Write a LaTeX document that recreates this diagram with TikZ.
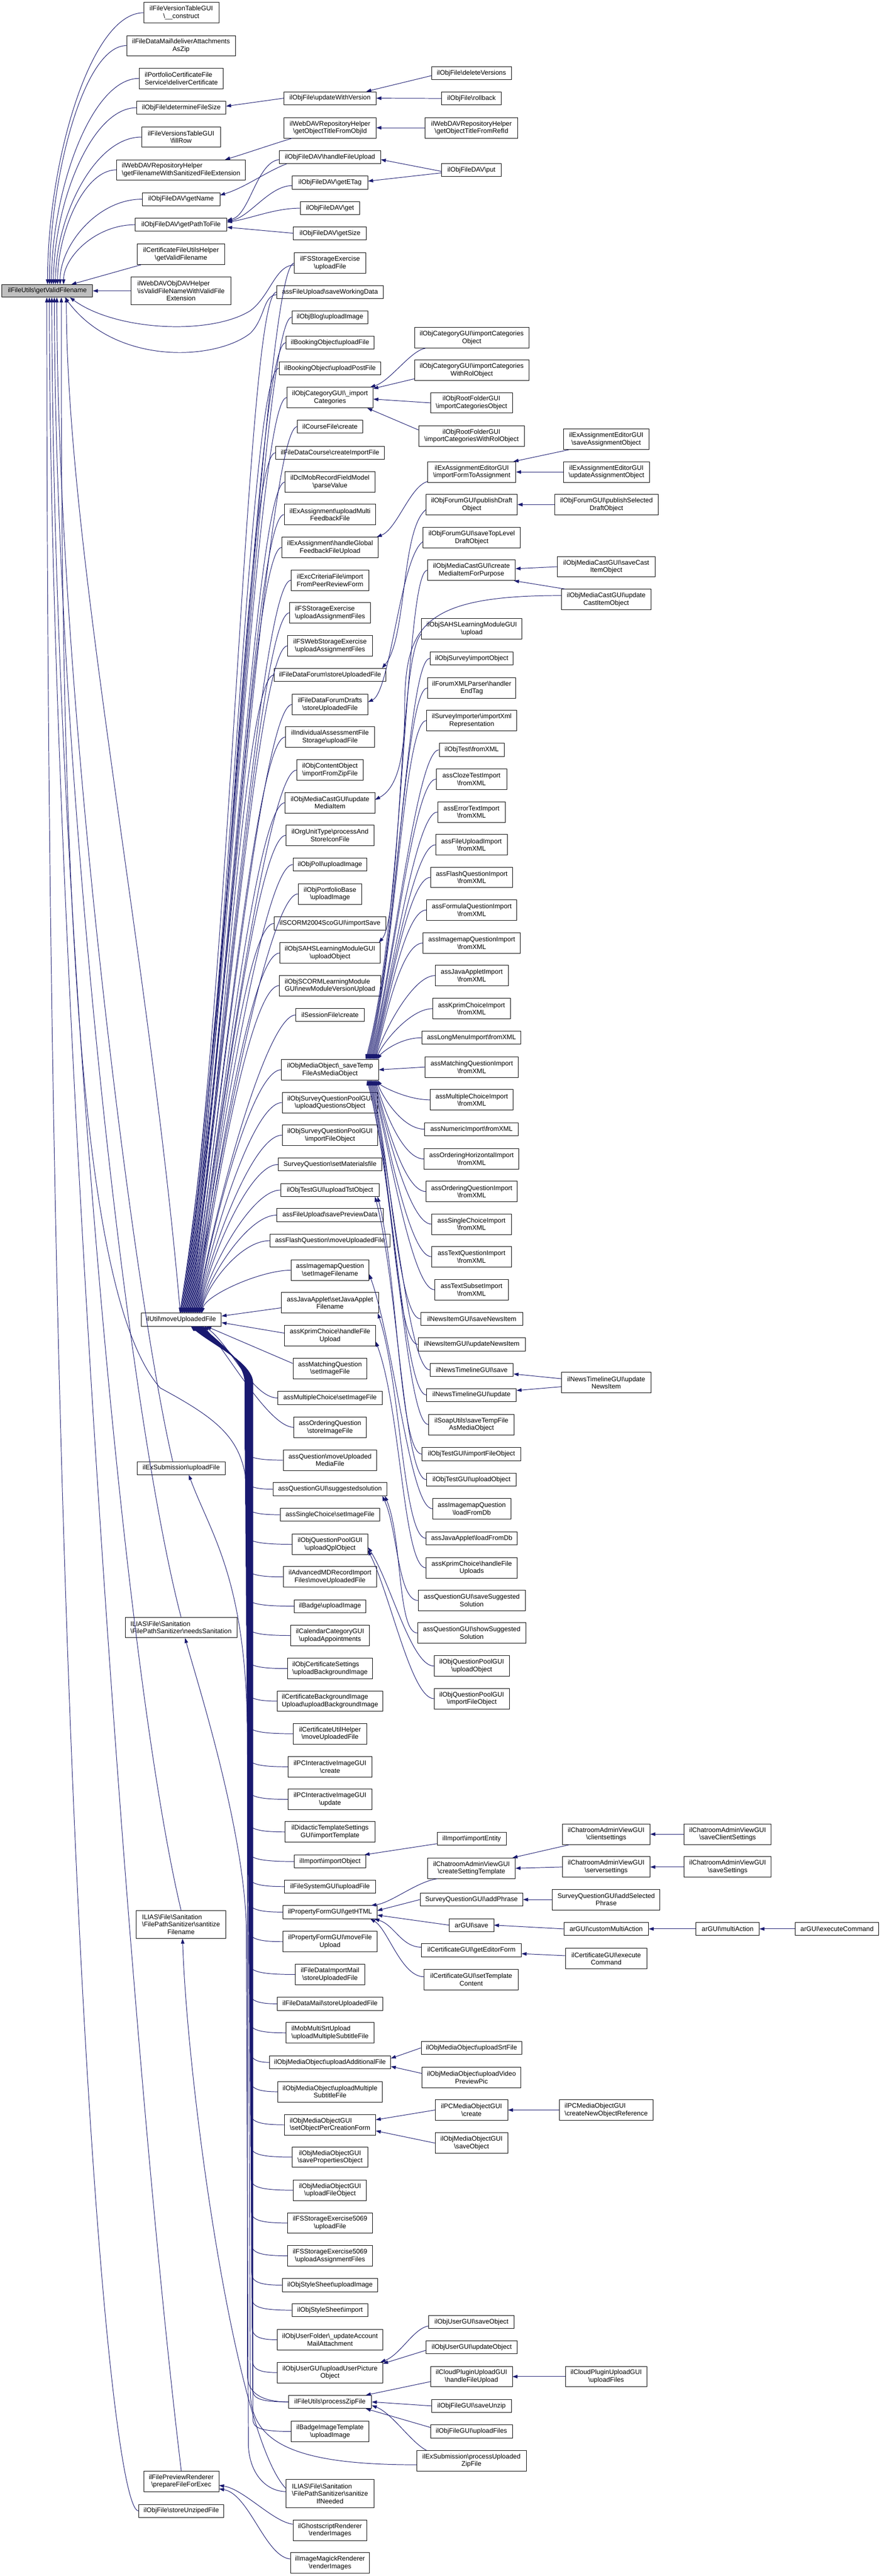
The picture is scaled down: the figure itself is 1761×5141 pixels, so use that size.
\documentclass[tikz,border=0pt]{standalone}
\usepackage{fontspec}
\setmainfont{Liberation Sans}
\usetikzlibrary{arrows.meta}
\definecolor{edgeblue}{RGB}{25,25,112}
\definecolor{rootgray}{RGB}{191,191,191}
\newcommand\bsl{\textbackslash}
\newcommand\lline[2]{\makebox[0pt][l]{#1}\hphantom{#2}}
\tikzset{
  box/.style={draw=black,line width=0.9pt,fill=white,inner xsep=1pt,inner ysep=0pt,font=\fontsize{13.2}{15}\selectfont,align=center},
  cedge/.style={draw=edgeblue,line width=1pt,>={Triangle[length=10pt,width=7pt]},<-},
}
\newcommand\nd[6]{\node[box,minimum width=#4pt,minimum height=#5pt] (#1) at (#2,#3) {#6};}
\newcommand\ndl[6]{\node[box,align=left,minimum width=#4pt,minimum height=#5pt] (#1) at (#2,#3) {#6};}
\newcommand\FanU[4]{\draw[cedge] ([xshift=#2pt]n11.north) .. controls +(#3,#4) and +(-60,0) .. (#1.west);}
\newcommand\FanD[4]{\draw[cedge] ([xshift=#2pt]n11.south) .. controls +(40,35) and +(0,-40) .. (#3,2760) -- (#3,#4-25) .. controls (#3,#4-8) and (#3+12,#4) .. (#1.west);}
\newcommand\SvU[4]{\draw[cedge] ([xshift=#2pt]c33.north east) .. controls +(#3,#4) and +(-45,0) .. (#1.west);}
\newcommand\SvD[4]{\draw[cedge] ([xshift=#2pt]c33.south east) .. controls +(#3,#4) and +(-45,0) .. (#1.west);}
\begin{document}
\begin{tikzpicture}[x=1pt,y=-1pt]
\useasboundingbox (0,0) rectangle (1761,5141);
\fill[white] (0,0) rectangle (1761,5141);
% root
\node[box,fill=rootgray,minimum width=181pt,minimum height=25pt] (root) at (94.5,580.5) {ilFileUtils\bsl{}getValidFilename};
% column 2
\nd{n1}{362}{25.5}{150}{41}{ilFileVersionTableGUI\\\bsl\_\_construct}
\nd{n2}{361.5}{91}{217}{40}{ilFileDataMail\bsl{}deliverAttachments\\AsZip}
\ndl{n3}{362}{156.5}{168}{41}{ilPortfolioCertificateFile\\Service\bsl{}deliverCertificate}
\nd{n4}{362}{215}{178}{26}{ilObjFile\bsl{}determineFileSize}
\nd{n5}{361.5}{273.5}{157}{41}{ilFileVersionsTableGUI\\\bsl{}fillRow}
\ndl{n6}{361.5}{339}{257}{40}{ilWebDAVRepositoryHelper\\\bsl{}getFilenameWithSanitizedFileExtension}
\nd{n7}{361.5}{397.5}{155}{26}{ilObjFileDAV\bsl{}getName}
\nd{n8}{361.5}{448.5}{183}{26}{ilObjFileDAV\bsl{}getPathToFile}
\nd{n9}{361.5}{507.5}{175}{41}{ilCertificateFileUtilsHelper\\\bsl{}getValidFilename}
\nd{n10}{361.5}{580.5}{199}{56}{\lline{ilWebDAVObjDAVHelper}{\bsl{}isValidFileNameWithValidFile}\\\bsl{}isValidFileNameWithValidFile\\Extension}
\nd{n11}{362}{2633.5}{160}{26}{ilUtil\bsl{}moveUploadedFile}
\nd{n12}{362}{2930}{176}{26}{ilExSubmission\bsl{}uploadFile}
\ndl{n13}{361.5}{3248}{223}{41}{ILIAS\bsl{}File\bsl{}Sanitation\\\bsl{}FilePathSanitizer\bsl{}needsSanitation}
\nd{n14}{361.5}{3840.5}{179}{56}{\lline{ILIAS\bsl{}File\bsl{}Sanitation}{\bsl{}FilePathSanitizer\bsl{}santitize}\\\bsl{}FilePathSanitizer\bsl{}santitize\\Filename}
\nd{n15}{362}{4952}{150}{41}{ilFilePreviewRenderer\\\bsl{}prepareFileForExec}
\nd{n16}{362}{5011}{170}{26}{ilObjFile\bsl{}storeUnzipedFile}
% column 3
\nd{c1}{659}{196}{184}{26}{ilObjFile\bsl{}updateWithVersion}
\nd{c2}{659}{255}{184}{41}{ilWebDAVRepositoryHelper\\\bsl{}getObjectTitleFromObjId}
\nd{c3}{659}{313.5}{202}{26}{ilObjFileDAV\bsl{}handleFileUpload}
\nd{c4}{659}{364.5}{151}{26}{ilObjFileDAV\bsl{}getETag}
\nd{c5}{659}{415.5}{119}{26}{ilObjFileDAV\bsl{}get}
\nd{c6}{659}{465.5}{146}{26}{ilObjFileDAV\bsl{}getSize}
\nd{c7}{659}{525}{142}{41}{ilFSStorageExercise\\\bsl{}uploadFile}
\nd{c8}{659}{583}{213}{26}{assFileUpload\bsl{}saveWorkingData}
\nd{c9}{659}{633}{152}{26}{ilObjBlog\bsl{}uploadImage}
\nd{c10}{659}{684}{176}{26}{ilBookingObject\bsl{}uploadFile}
\nd{c11}{659}{735}{203}{26}{ilBookingObject\bsl{}uploadPostFile}
\nd{c12}{659}{793.5}{172}{41}{ilObjCategoryGUI\bsl\_import\\Categories}
\nd{c13}{659}{851.5}{130}{26}{ilCourseFile\bsl{}create}
\nd{c14}{659}{903.5}{217}{26}{ilFileDataCourse\bsl{}createImportFile}
\nd{c15}{659}{962}{179}{41}{ilDclMobRecordFieldModel\\\bsl{}parseValue}
\nd{c16}{659}{1027}{183}{41}{ilExAssignment\bsl{}uploadMulti\\FeedbackFile}
\nd{c17}{659}{1092.5}{192}{41}{ilExAssignment\bsl{}handleGlobal\\FeedbackFileUpload}
\nd{c18}{659}{1158}{155}{41}{ilExcCriteriaFile\bsl{}import\\FromPeerReviewForm}
\ndl{c19}{659}{1223}{161}{41}{ilFSStorageExercise\\\bsl{}uploadAssignmentFiles}
\nd{c20}{659}{1289}{169}{41}{ilFSWebStorageExercise\\\bsl{}uploadAssignmentFiles}
\nd{c21}{659}{1347}{223}{26}{ilFileDataForum\bsl{}storeUploadedFile}
\nd{c22}{659}{1406}{151}{41}{ilFileDataForumDrafts\\\bsl{}storeUploadedFile}
\nd{c23}{659}{1471}{178}{41}{ilIndividualAssessmentFile\\Storage\bsl{}uploadFile}
\nd{c24}{659}{1537}{133}{41}{ilObjContentObject\\\bsl{}importFromZipFile}
\nd{c25}{659}{1602}{179}{41}{ilObjMediaCastGUI\bsl{}update\\MediaItem}
\nd{c26}{659}{1667}{175}{41}{ilOrgUnitType\bsl{}processAnd\\StoreIconFile}
\nd{c27}{659}{1725.5}{148}{26}{ilObjPoll\bsl{}uploadImage}
\nd{c28}{659}{1784}{127}{41}{ilObjPortfolioBase\\\bsl{}uploadImage}
\nd{c29}{659}{1843}{223}{26}{ilSCORM2004ScoGUI\bsl{}importSave}
\nd{c30}{659}{1902}{200}{41}{ilObjSAHSLearningModuleGUI\\\bsl{}uploadObject}
\ndl{c31}{659}{1967}{202}{41}{ilObjSCORMLearningModule\\GUI\bsl{}newModuleVersionUpload}
\nd{c32}{659}{2025.5}{136}{26}{ilSessionFile\bsl{}create}
\nd{c33}{659}{2135}{194}{41}{ilObjMediaObject\bsl\_saveTemp\\FileAsMediaObject}
\nd{c34}{659}{2200.5}{191}{41}{ilObjSurveyQuestionPoolGUI\\\bsl{}uploadQuestionsObject}
\nd{c35}{659}{2265.5}{191}{41}{ilObjSurveyQuestionPoolGUI\\\bsl{}importFileObject}
\nd{c36}{659}{2324}{207}{26}{SurveyQuestion\bsl{}setMaterialsfile}
\nd{c37}{659}{2375}{197}{26}{ilObjTestGUI\bsl{}uploadTstObject}
\nd{c38}{659}{2425}{212}{26}{assFileUpload\bsl{}savePreviewData}
\nd{c39}{659}{2476}{240}{26}{assFlashQuestion\bsl{}moveUploadedFile}
\nd{c40}{659}{2535}{156}{41}{assImagemapQuestion\\\bsl{}setImageFilename}
\nd{c41}{659}{2600}{194}{41}{assJavaApplet\bsl{}setJavaApplet\\Filename}
\nd{c42}{659}{2665.5}{182}{41}{assKprimChoice\bsl{}handleFile\\Upload}
\nd{c43}{659}{2731}{148}{41}{assMatchingQuestion\\\bsl{}setImageFile}
\nd{c44}{659}{2790}{208}{26}{assMultipleChoice\bsl{}setImageFile}
\nd{c45}{659}{2848.5}{144}{41}{assOrderingQuestion\\\bsl{}storeImageFile}
\nd{c46}{659}{2914}{187}{41}{assQuestion\bsl{}moveUploaded\\MediaFile}
\nd{c47}{659}{2972}{228}{26}{assQuestionGUI\bsl{}suggestedsolution}
\nd{c48}{659}{3023}{199}{26}{assSingleChoice\bsl{}setImageFile}
\nd{c49}{659}{3082}{151}{41}{ilObjQuestionPoolGUI\\\bsl{}uploadQplObject}
\nd{c50}{659}{3147}{187}{41}{ilAdvancedMDRecordImport\\Files\bsl{}moveUploadedFile}
\nd{c51}{659}{3205.5}{143}{26}{ilBadge\bsl{}uploadImage}
\nd{c52}{659}{3264}{158}{41}{ilCalendarCategoryGUI\\\bsl{}uploadAppointments}
\ndl{c53}{659}{3330}{169}{41}{ilObjCertificateSettings\\\bsl{}uploadBackgroundImage}
\ndl{c54}{659}{3395}{210}{41}{ilCertificateBackgroundImage\\Upload\bsl{}uploadBackgroundImage}
\nd{c55}{659}{3460}{147}{41}{ilCertificateUtilHelper\\\bsl{}moveUploadedFile}
\nd{c56}{659}{3526}{168}{41}{ilPCInteractiveImageGUI\\\bsl{}create}
\nd{c57}{659}{3591}{168}{41}{ilPCInteractiveImageGUI\\\bsl{}update}
\nd{c58}{659}{3656}{179}{41}{ilDidacticTemplateSettings\\GUI\bsl{}importTemplate}
\nd{c59}{659}{3715}{143}{26}{ilImport\bsl{}importObject}
\nd{c60}{659}{3765}{182}{26}{ilFileSystemGUI\bsl{}uploadFile}
\nd{c61}{659}{3816}{188}{26}{ilPropertyFormGUI\bsl{}getHTML}
\nd{c62}{659}{3875}{188}{41}{ilPropertyFormGUI\bsl{}moveFile\\Upload}
\nd{c63}{659}{3940.5}{139}{41}{ilFileDataImportMail\\\bsl{}storeUploadedFile}
\nd{c64}{659}{3999}{211}{26}{ilFileDataMail\bsl{}storeUploadedFile}
\ndl{c65}{659}{4057}{175}{41}{ilMobMultiSrtUpload\\\bsl{}uploadMultipleSubtitleFile}
\nd{c66}{659}{4116}{242}{26}{ilObjMediaObject\bsl{}uploadAdditionalFile}
\nd{c67}{659}{4174.5}{208}{41}{ilObjMediaObject\bsl{}uploadMultiple\\SubtitleFile}
\ndl{c68}{659}{4240.5}{182}{41}{ilObjMediaObjectGUI\\\bsl{}setObjectPerCreationForm}
\nd{c69}{659}{4305}{151}{41}{ilObjMediaObjectGUI\\\bsl{}savePropertiesObject}
\nd{c70}{659}{4371}{146}{41}{ilObjMediaObjectGUI\\\bsl{}uploadFileObject}
\nd{c71}{659}{4436.5}{169}{41}{ilFSStorageExercise5069\\\bsl{}uploadFile}
\nd{c72}{659}{4502}{169}{41}{ilFSStorageExercise5069\\\bsl{}uploadAssignmentFiles}
\nd{c73}{659}{4560.5}{191}{26}{ilObjStyleSheet\bsl{}uploadImage}
\nd{c74}{659}{4610.5}{152}{26}{ilObjStyleSheet\bsl{}import}
\nd{c75}{659}{4669.5}{211}{41}{ilObjUserFolder\bsl\_updateAccount\\MailAttachment}
\nd{c76}{659}{4735}{211}{41}{ilObjUserGUI\bsl{}uploadUserPicture\\Object}
\nd{c77}{659}{4793.5}{166}{26}{ilFileUtils\bsl{}processZipFile}
\nd{c78}{659}{4852.5}{155}{41}{ilBadgeImageTemplate\\\bsl{}uploadImage}
\nd{c79}{659}{4976.5}{175}{56}{\lline{ILIAS\bsl{}File\bsl{}Sanitation}{\bsl{}FilePathSanitizer\bsl{}sanitize}\\\bsl{}FilePathSanitizer\bsl{}sanitize\\IfNeeded}
\nd{c80}{659}{5049.5}{148}{41}{ilGhostscriptRenderer\\\bsl{}renderImages}
\nd{c81}{659}{5115}{158}{41}{ilImageMagickRenderer\\\bsl{}renderImages}
% column 4
\nd{d1}{941.5}{146}{159}{26}{ilObjFile\bsl{}deleteVersions}
\nd{d2}{941.5}{196.5}{119}{26}{ilObjFile\bsl{}rollback}
\nd{d3}{941.5}{255}{185}{41}{ilWebDAVRepositoryHelper\\\bsl{}getObjectTitleFromRefId}
\nd{d4}{941.5}{339}{119}{26}{ilObjFileDAV\bsl{}put}
\nd{d5}{942}{674}{228}{41}{ilObjCategoryGUI\bsl{}importCategories\\Object}
\nd{d6}{942}{739}{228}{41}{ilObjCategoryGUI\bsl{}importCategories\\WithRolObject}
\nd{d7}{941.5}{804}{163}{41}{ilObjRootFolderGUI\\\bsl{}importCategoriesObject}
\nd{d8}{941.5}{870}{211}{41}{ilObjRootFolderGUI\\\bsl{}importCategoriesWithRolObject}
\nd{d9}{942}{942}{176}{41}{ilExAssignmentEditorGUI\\\bsl{}importFormToAssignment}
\nd{d10}{942}{1007}{182}{41}{ilObjForumGUI\bsl{}publishDraft\\Object}
\nd{d11}{942}{1073}{194}{41}{ilObjForumGUI\bsl{}saveTopLevel\\DraftObject}
\nd{d12}{941.5}{1138}{175}{41}{ilObjMediaCastGUI\bsl{}create\\MediaItemForPurpose}
\nd{d13}{942}{1255}{200}{41}{ilObjSAHSLearningModuleGUI\\\bsl{}upload}
\nd{d14}{942}{1314}{166}{26}{ilObjSurvey\bsl{}importObject}
\nd{d15}{942}{1373}{176}{41}{ilForumXMLParser\bsl{}handler\\EndTag}
\nd{d16}{942}{1438}{180}{41}{ilSurveyImporter\bsl{}importXml\\Representation}
\nd{d17}{942}{1496.5}{130}{26}{ilObjTest\bsl{}fromXML}
\nd{d18}{941.5}{1555}{141}{41}{assClozeTestImport\\\bsl{}fromXML}
\nd{d19}{941.5}{1620.5}{135}{41}{assErrorTextImport\\\bsl{}fromXML}
\nd{d20}{941.5}{1686}{143}{41}{assFileUploadImport\\\bsl{}fromXML}
\nd{d21}{942}{1751}{164}{41}{assFlashQuestionImport\\\bsl{}fromXML}
\nd{d22}{942}{1816}{180}{41}{assFormulaQuestionImport\\\bsl{}fromXML}
\nd{d23}{942}{1882}{194}{41}{assImagemapQuestionImport\\\bsl{}fromXML}
\nd{d24}{942}{1947}{146}{41}{assJavaAppletImport\\\bsl{}fromXML}
\nd{d25}{941.5}{2013}{155}{41}{assKprimChoiceImport\\\bsl{}fromXML}
\nd{d26}{941.5}{2071}{197}{26}{assLongMenuImport\bsl{}fromXML}
\nd{d27}{942}{2129.5}{186}{41}{assMatchingQuestionImport\\\bsl{}fromXML}
\nd{d28}{942}{2195}{166}{41}{assMultipleChoiceImport\\\bsl{}fromXML}
\nd{d29}{941.5}{2253.5}{187}{26}{assNumericImport\bsl{}fromXML}
\nd{d30}{941.5}{2313}{189}{41}{assOrderingHorizontalImport\\\bsl{}fromXML}
\nd{d31}{942}{2378}{182}{41}{assOrderingQuestionImport\\\bsl{}fromXML}
\nd{d32}{941.5}{2443}{159}{41}{assSingleChoiceImport\\\bsl{}fromXML}
\nd{d33}{941.5}{2508}{159}{41}{assTextQuestionImport\\\bsl{}fromXML}
\nd{d34}{941.5}{2574}{147}{41}{assTextSubsetImport\\\bsl{}fromXML}
\nd{d35}{942}{2632}{204}{26}{ilNewsItemGUI\bsl{}saveNewsItem}
\nd{d36}{942}{2683}{214}{26}{ilNewsItemGUI\bsl{}updateNewsItem}
\nd{d37}{942}{2734}{166}{26}{ilNewsTimelineGUI\bsl{}save}
\nd{d38}{941.5}{2784}{179}{26}{ilNewsTimelineGUI\bsl{}update}
\nd{d39}{941.5}{2843}{171}{41}{ilSoapUtils\bsl{}saveTempFile\\AsMediaObject}
\nd{d40}{941.5}{2902}{197}{26}{ilObjTestGUI\bsl{}importFileObject}
\nd{d41}{941.5}{2953}{179}{26}{ilObjTestGUI\bsl{}uploadObject}
\nd{d42}{942}{3011}{156}{41}{assImagemapQuestion\\\bsl{}loadFromDb}
\nd{d43}{942}{3070}{182}{26}{assJavaApplet\bsl{}loadFromDb}
\nd{d44}{942}{3129}{182}{41}{assKprimChoice\bsl{}handleFile\\Uploads}
\nd{d45}{942}{3194}{214}{41}{assQuestionGUI\bsl{}saveSuggested\\Solution}
\nd{d46}{942}{3259}{216}{41}{assQuestionGUI\bsl{}showSuggested\\Solution}
\nd{d47}{942}{3325}{150}{41}{ilObjQuestionPoolGUI\\\bsl{}uploadObject}
\nd{d48}{942}{3390}{150}{41}{ilObjQuestionPoolGUI\\\bsl{}importFileObject}
\nd{d49}{942}{3669.5}{138}{26}{ilImport\bsl{}importEntity}
\nd{d50}{941.5}{3728.5}{175}{41}{ilChatroomAdminViewGUI\\\bsl{}createSettingTemplate}
\nd{d51}{941.5}{3791}{205}{26}{SurveyQuestionGUI\bsl{}addPhrase}
\nd{d52}{941.5}{3842}{89}{26}{arGUI\bsl{}save}
\nd{d53}{941.5}{3892}{199}{26}{ilCertificateGUI\bsl{}getEditorForm}
\nd{d54}{941}{3951}{188}{41}{ilCertificateGUI\bsl{}setTemplate\\Content}
\nd{d55}{941.5}{4087}{201}{26}{ilObjMediaObject\bsl{}uploadSrtFile}
\nd{d56}{941.5}{4146}{197}{41}{ilObjMediaObject\bsl{}uploadVideo\\PreviewPic}
\nd{d57}{941.5}{4211}{145}{41}{ilPCMediaObjectGUI\\\bsl{}create}
\nd{d58}{941.5}{4277}{145}{41}{ilObjMediaObjectGUI\\\bsl{}saveObject}
\nd{d59}{941.5}{4634}{171}{26}{ilObjUserGUI\bsl{}saveObject}
\nd{d60}{942}{4684.5}{182}{26}{ilObjUserGUI\bsl{}updateObject}
\nd{d61}{941.5}{4743}{163}{41}{ilCloudPluginUploadGUI\\\bsl{}handleFileUpload}
\nd{d62}{941.5}{4801.5}{159}{26}{ilObjFileGUI\bsl{}saveUnzip}
\nd{d63}{941.5}{4852.5}{163}{26}{ilObjFileGUI\bsl{}uploadFiles}
\nd{d64}{941.5}{4911}{219}{41}{ilExSubmission\bsl{}processUploaded\\ZipFile}
% column 5
\nd{e1}{1210.5}{876.5}{171}{41}{ilExAssignmentEditorGUI\\\bsl{}saveAssignmentObject}
\nd{e2}{1211}{942}{172}{41}{ilExAssignmentEditorGUI\\\bsl{}updateAssignmentObject}
\nd{e3}{1211}{1007}{206}{41}{ilObjForumGUI\bsl{}publishSelected\\DraftObject}
\nd{e4}{1210.5}{1131}{195}{41}{ilObjMediaCastGUI\bsl{}saveCast\\ItemObject}
\nd{e5}{1210.5}{1196.5}{179}{41}{ilObjMediaCastGUI\bsl{}update\\CastItemObject}
\nd{e6}{1210.5}{2759.5}{179}{41}{ilNewsTimelineGUI\bsl{}update\\NewsItem}
\nd{e7}{1210.5}{3660.5}{175}{41}{ilChatroomAdminViewGUI\\\bsl{}clientsettings}
\nd{e8}{1210.5}{3726}{175}{41}{ilChatroomAdminViewGUI\\\bsl{}serversettings}
\nd{e9}{1210.5}{3791}{215}{41}{SurveyQuestionGUI\bsl{}addSelected\\Phrase}
\nd{e10}{1210.5}{3849.5}{169}{26}{arGUI\bsl{}customMultiAction}
\nd{e11}{1210.5}{3909}{163}{41}{ilCertificateGUI\bsl{}execute\\Command}
\ndl{e12}{1210.5}{4211}{187}{41}{ilPCMediaObjectGUI\\\bsl{}createNewObjectReference}
\nd{e13}{1210.5}{4743}{163}{41}{ilCloudPluginUploadGUI\\\bsl{}uploadFiles}
% columns 6, 7
\nd{f1}{1453}{3660.5}{174}{41}{ilChatroomAdminViewGUI\\\bsl{}saveClientSettings}
\nd{f2}{1453}{3726}{174}{41}{ilChatroomAdminViewGUI\\\bsl{}saveSettings}
\nd{f3}{1453}{3849.5}{126}{26}{arGUI\bsl{}multiAction}
\nd{g1}{1671.5}{3849.5}{167}{26}{arGUI\bsl{}executeCommand}
% ---------- edges into root ----------
\draw[cedge] ([xshift=0.5pt]root.north) .. controls +(0,-244) and +(-106,0) .. (n1.west);
\draw[cedge] ([xshift=4.5pt]root.north) .. controls +(0,-215) and +(-85,0) .. (n2.west);
\draw[cedge] ([xshift=8.5pt]root.north) .. controls +(0,-185) and +(-96,0) .. (n3.west);
\draw[cedge] ([xshift=12.5pt]root.north) .. controls +(0,-159) and +(-91,0) .. (n4.west);
\draw[cedge] ([xshift=16.5pt]root.north) .. controls +(0,-133) and +(-95,0) .. (n5.west);
\draw[cedge] ([xshift=20.5pt]root.north) .. controls +(0,-103) and +(-65,0) .. (n6.west);
\draw[cedge] ([xshift=25.5pt]root.north) .. controls +(0,-77) and +(-90,0) .. (n7.west);
\draw[cedge] ([xshift=32.5pt]root.north) .. controls +(0,-54) and +(-79,0) .. (n8.west);
\draw[cedge] ([xshift=48pt]root.north) -- ([xshift=8pt]n9.south west);
\draw[cedge] (root.east) -- (n10.west);
\draw[cedge] ([xshift=-1pt]root.south) .. controls +(0,3000) and +(-60,0) .. (n16.west);
\draw[cedge] ([xshift=4pt]root.south) .. controls (100,1800) and (250,4000) .. (n15.north);
\draw[cedge] ([xshift=9pt]root.south) .. controls (105,1700) and (240,3300) .. (n14.north);
\draw[cedge] ([xshift=14pt]root.south) .. controls (110,1500) and (250,2800) .. (n13.north);
\draw[cedge] ([xshift=19pt]root.south) .. controls (115,1400) and (270,2600) .. ([xshift=-17pt]n12.north);
\draw[cedge] ([xshift=28pt]root.south) .. controls (120,1900) and (170,2600) .. (320,2770) .. controls (450,2840) and (494,2880) .. (494,3000) -- (494,4740) .. controls (494,4780) and (530,4793.5) .. (c77.west);
\draw[cedge] ([xshift=38pt]root.south) .. controls +(0,500) and +(-60,-700) .. ([xshift=-2pt]n11.north);
\draw[cedge] ([xshift=45pt]root.south) .. controls (230,660) and (420,670) .. (500,620) .. controls (540,590) and (550,529) .. ([yshift=-4pt]c7.west);
\draw[cedge] ([xshift=35pt]root.south) .. controls (230,730) and (430,720) .. (500,665) .. controls (530,635) and (525,590) .. ([yshift=-5pt]c8.west);
% ---------- column 3 -> column 2 (top) ----------
\draw[cedge] ([yshift=3pt]n4.east) -- (c1.west);
\draw[cedge] ([xshift=-41pt]n6.north east) .. controls +(40,-12) and +(-40,12) .. ([xshift=17pt]c2.south west);
\draw[cedge] ([yshift=8pt]n7.east) .. controls +(50,-15) and +(-40,15) .. ([xshift=15pt]c3.south west);
\draw[cedge] ([yshift=9pt]n8.east) .. controls +(45,-10) and +(-45,5) .. ([yshift=-5pt]c3.west);
\draw[cedge] ([yshift=7pt]n8.east) .. controls +(45,-8) and +(-45,0) .. ([yshift=-6pt]c4.west);
\draw[cedge] ([yshift=5pt]n8.east) .. controls +(50,-8) and +(-50,0) .. (c5.west);
\draw[cedge] ([yshift=-5pt]n8.east) -- (c6.west);
% ---------- fan into ilUtil::moveUploadedFile (from above) ----------
\FanU{c7}{-3}{105}{-650}\FanU{c8}{-1.65}{102}{-632}\FanU{c9}{-0.3}{99}{-616}
\FanU{c10}{1.05}{97}{-600}\FanU{c11}{2.4}{94}{-585}\FanU{c12}{3.75}{91}{-567}
\FanU{c13}{5.1}{88}{-549}\FanU{c14}{6.45}{86}{-532}\FanU{c15}{7.8}{83}{-514}
\FanU{c16}{9.15}{80}{-494}\FanU{c17}{10.5}{76}{-474}\FanU{c18}{11.85}{73}{-454}
\FanU{c19}{13.2}{70}{-433}\FanU{c20}{14.55}{67}{-413}\FanU{c21}{15.9}{64}{-395}
\FanU{c22}{17.25}{61}{-377}\FanU{c23}{18.6}{57}{-356}\FanU{c24}{19.95}{54}{-336}
\FanU{c25}{21.3}{51}{-316}\FanU{c26}{22.65}{48}{-296}\FanU{c27}{24}{45}{-278}
\FanU{c28}{25.35}{42}{-259}\FanU{c29}{26.7}{39}{-241}\FanU{c30}{28.05}{36}{-223}
\FanU{c31}{29.4}{33}{-203}\FanU{c32}{30.75}{30}{-185}\FanU{c33}{32.1}{24}{-151}
\FanU{c34}{33.45}{21}{-130}\FanU{c35}{34.8}{18}{-110}\FanU{c36}{36.15}{15}{-92}
\FanU{c37}{37.5}{12}{-76}\FanU{c38}{38.85}{10}{-61}\FanU{c39}{40.2}{8}{-50}
\FanU{c40}{41.55}{6}{-35}
\draw[cedge] ([yshift=7pt]n11.east) -- ([yshift=-10pt]c41.west);
\draw[cedge] ([yshift=-6pt]n11.east) -- ([yshift=5pt]c42.west);
% ---------- fan into ilUtil::moveUploadedFile (from below) ----------
\draw[cedge] ([xshift=50pt]n11.south) -- ([yshift=10pt]c43.west);
\draw[cedge] ([xshift=46pt]n11.south) .. controls +(50,35) and +(-50,0) .. (c44.west);
\draw[cedge] ([xshift=43pt]n11.south) .. controls +(45,45) and +(-50,0) .. (c45.west);
\FanD{c46}{40}{489}{2914}\FanD{c47}{39.4}{489.5}{2972}\FanD{c48}{38.7}{490}{3023}
\FanD{c49}{38.1}{490.5}{3082}\FanD{c50}{37.4}{491}{3147}\FanD{c51}{36.8}{491.5}{3205.5}
\FanD{c52}{36.1}{492}{3264}\FanD{c53}{35.5}{492.5}{3330}\FanD{c54}{34.8}{493}{3395}
\FanD{c55}{34.2}{493.5}{3460}\FanD{c56}{33.5}{494}{3526}\FanD{c57}{32.9}{494.5}{3591}
\FanD{c58}{32.2}{495}{3656}\FanD{c59}{31.6}{495.5}{3715}\FanD{c60}{30.9}{496}{3765}
\FanD{c61}{30.3}{496.5}{3816}\FanD{c62}{29.6}{497}{3875}\FanD{c63}{29}{497.5}{3940.5}
\FanD{c64}{28.3}{498}{3999}\FanD{c65}{27.7}{498.5}{4057}\FanD{c66}{27}{499}{4116}
\FanD{c67}{26.4}{499.5}{4174.5}\FanD{c68}{25.7}{500}{4240.5}\FanD{c69}{25.1}{500.5}{4305}
\FanD{c70}{24.4}{501}{4371}\FanD{c71}{23.8}{501.5}{4436.5}\FanD{c72}{23.1}{502}{4502}
\FanD{c73}{22.5}{502.5}{4560.5}\FanD{c74}{21.8}{503}{4610.5}\FanD{c75}{21.2}{503.5}{4669.5}
\FanD{c76}{20.5}{504}{4735}\FanD{c77}{19.9}{504.5}{4793.5}\FanD{c78}{19.2}{505}{4852.5}
% ---------- other edges into column 2 ----------
\draw[cedge] ([xshift=15pt]n12.south) .. controls +(45,120) and (490,3150) .. (494,3450) -- (500,4780) .. controls (505,4880) and (600,4919) .. ([yshift=-8pt]d64.west);
\draw[cedge] ([xshift=8pt]n13.south) .. controls +(25,90) and (488,3650) .. (492,3850) -- (496,4880) .. controls (498,4935) and (530,4972) .. ([yshift=4pt]c79.west);
\draw[cedge] ([xshift=3pt]n14.south) .. controls +(10,300) and (470,4860) .. ([yshift=10pt]c79.west);
\draw[cedge] ([yshift=-8pt]n15.east) .. controls +(50,8) and +(-40,-5) .. ([yshift=12pt]c80.west);
\draw[cedge] ([yshift=-15pt]n15.east) .. controls +(60,10) and +(-50,-5) .. ([yshift=8pt]c81.west);
% ---------- column 4 -> column 3 ----------
\draw[cedge] ([xshift=-20pt]c1.north east) -- ([yshift=-5pt]d1.west);
\draw[cedge] (c1.east) -- (d2.west);
\draw[cedge] (c2.east) -- (d3.west);
\draw[cedge] ([yshift=-5pt]c3.east) -- ([yshift=-3pt]d4.west);
\draw[cedge] ([yshift=3pt]c4.east) -- ([yshift=-6pt]d4.west);
\draw[cedge] ([xshift=-6pt]c12.north east) .. controls +(40,-12) and +(-30,5) .. ([xshift=22pt]d5.south west);
\draw[cedge] ([yshift=-3pt]c12.north east) -- ([yshift=4pt]d6.south west);
\draw[cedge] ([yshift=-3pt]c12.east) -- (d7.west);
\draw[cedge] ([xshift=-12pt]c12.south east) -- ([yshift=12pt]d8.west);
\draw[cedge] ([xshift=-3pt]c17.north east) .. controls +(40,-15) and +(-35,10) .. ([yshift=2pt]d9.south west);
\draw[cedge] ([xshift=-8pt]c21.north east) .. controls +(50,-60) and +(-50,40) .. ([yshift=-10pt]d10.west);
\draw[cedge] ([yshift=5pt]c22.east) .. controls +(45,-20) and +(-45,30) .. ([yshift=-8pt]d11.west);
\draw[cedge] ([xshift=-3pt]c30.north east) .. controls +(45,-50) and +(-45,40) .. ([yshift=-10pt]d13.west);
\draw[cedge] ([yshift=6pt]c25.east) .. controls (790,1575) and (808,1520) .. (808,1420) .. controls (808,1250) and (840,1188.5) .. ([yshift=8pt]e5.west);
% into ilObjMediaObject::_saveTempFileAsMediaObject
\SvU{d12}{-26}{78}{-293}\SvU{d14}{-24.2}{64}{-240}\SvU{d15}{-22.4}{59}{-222}
\SvU{d16}{-20.6}{54}{-203}\SvU{d17}{-18.8}{49}{-185}\SvU{d18}{-17}{45}{-168}
\SvU{d19}{-15.2}{40}{-148}\SvU{d20}{-13.4}{34}{-128}\SvU{d21}{-11.6}{29}{-109}
\SvU{d22}{-9.8}{24}{-89}\SvU{d23}{-8}{19}{-70}\SvU{d24}{-6.2}{13}{-50}
\SvU{d25}{-4.4}{10}{-30}\SvU{d26}{-2.6}{8}{-13}
\draw[cedge] (c33.east) -- (d27.west);
\SvD{d28}{-2.6}{8}{12}\SvD{d29}{-4.5}{10}{29}\SvD{d30}{-6.4}{13}{47}
\SvD{d31}{-8.3}{18}{67}\SvD{d32}{-10.2}{23}{86}\SvD{d33}{-12.1}{28}{106}
\SvD{d34}{-14}{33}{125}\SvD{d35}{-15.9}{38}{143}\SvD{d36}{-17.8}{42}{158}
\SvD{d37}{-19.7}{46}{173}\SvD{d38}{-21.6}{50}{188}\SvD{d39}{-23.5}{55}{206}
\draw[cedge] ([xshift=-4pt]c37.south east) .. controls +(40,155) and +(-45,0) .. (d40.west);
\draw[cedge] ([xshift=-9pt]c37.south east) .. controls +(45,170) and +(-45,0) .. (d41.west);
\draw[cedge] ([yshift=-8pt]c40.east) .. controls +(50,140) and +(-45,0) .. (d42.west);
\draw[cedge] ([xshift=-2pt]c41.south east) .. controls +(45,135) and +(-45,0) .. (d43.west);
\draw[cedge] ([yshift=-12pt]c42.east) .. controls +(50,135) and +(-45,0) .. (d44.west);
\draw[cedge] ([xshift=-10pt]c47.south east) .. controls +(30,63) and +(-40,0) .. (d45.west);
\draw[cedge] ([xshift=-5pt]c47.south east) .. controls +(35,82) and +(-40,0) .. (d46.west);
\draw[cedge] ([yshift=-6pt]c49.east) .. controls +(45,70) and +(-45,0) .. (d47.west);
\draw[cedge] ([yshift=-12pt]c49.east) .. controls +(45,90) and +(-45,0) .. (d48.west);
\draw[cedge] ([xshift=-3pt]c59.north east) -- ([yshift=-10pt]d49.west);
\draw[cedge] ([xshift=-12pt]c61.north east) .. controls +(40,-5) and +(-40,5) .. ([xshift=20pt]d50.south west);
\draw[cedge] ([yshift=3pt]c61.east) -- (d51.west);
\draw[cedge] ([yshift=-6pt]c61.east) -- (d52.west);
\draw[cedge] ([xshift=-6pt]c61.south east) .. controls +(40,12) and +(-40,0) .. ([yshift=6pt]d53.west);
\draw[cedge] ([xshift=-14pt]c61.south east) .. controls +(35,20) and +(-45,0) .. ([yshift=6pt]d54.west);
\draw[cedge] ([yshift=8pt]c66.east) -- (d55.west);
\draw[cedge] ([yshift=-8pt]c66.east) -- ([yshift=8pt]d56.west);
\draw[cedge] ([yshift=10pt]c68.east) -- (d57.west);
\draw[cedge] ([yshift=-12pt]c68.east) -- (d58.west);
\draw[cedge] ([xshift=-5pt]c76.north east) .. controls +(40,-15) and +(-30,5) .. ([yshift=-8pt]d59.west);
\draw[cedge] ([yshift=-3pt]c76.north east) -- ([yshift=-6pt]d60.west);
\draw[cedge] ([xshift=-12pt]c77.north east) -- ([yshift=-10pt]d61.west);
\draw[cedge] (c77.east) -- (d62.west);
\draw[cedge] ([xshift=-12pt]c77.south east) -- ([yshift=8pt]d63.west);
\draw[cedge] ([yshift=-7pt]c77.east) .. controls +(40,15) and +(-30,-15) .. ([xshift=20pt]d64.north west);
% ---------- column 5 -> column 4 ----------
\draw[cedge] ([xshift=-5pt]d9.north east) -- ([xshift=12pt]e1.south west);
\draw[cedge] (d9.east) -- (e2.west);
\draw[cedge] (d10.east) -- (e3.west);
\draw[cedge] ([yshift=3pt]d12.east) -- (e4.west);
\draw[cedge] ([xshift=-3pt]d12.south east) -- ([xshift=8pt]e5.north west);
\draw[cedge] ([yshift=-8pt]d37.east) -- ([yshift=8pt]e6.west);
\draw[cedge] ([yshift=9pt]d38.east) -- ([yshift=-8pt]e6.west);
\draw[cedge] ([xshift=-6pt]d50.north east) -- ([xshift=15pt]e7.south west);
\draw[cedge] (d50.east) -- (e8.west);
\draw[cedge] (d51.east) -- (e9.west);
\draw[cedge] (d52.east) -- (e10.west);
\draw[cedge] ([yshift=-7pt]d53.east) -- ([yshift=6pt]e11.west);
\draw[cedge] (d57.east) -- (e12.west);
\draw[cedge] (d61.east) -- (e13.west);
% ---------- columns 6, 7 ----------
\draw[cedge] (e7.east) -- (f1.west);
\draw[cedge] (e8.east) -- (f2.west);
\draw[cedge] (e10.east) -- (f3.west);
\draw[cedge] (f3.east) -- (g1.west);
\end{tikzpicture}
\end{document}
